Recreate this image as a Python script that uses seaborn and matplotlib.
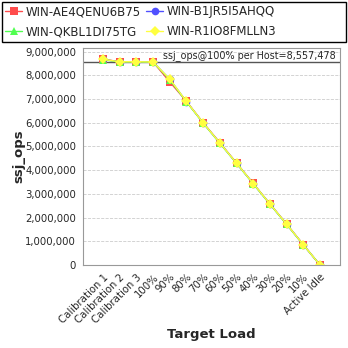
import matplotlib
matplotlib.use("Agg")
import matplotlib.pyplot as plt
import seaborn as sns
import pandas as pd
import numpy as np
from matplotlib.ticker import FuncFormatter
from matplotlib.patches import Rectangle

categories = ["Calibration 1", "Calibration 2", "Calibration 3", "100%", "90%", "80%",
              "70%", "60%", "50%", "40%", "30%", "20%", "10%", "Active Idle"]
hosts = ["WIN-AE4QENU6B75", "WIN-B1JR5I5AHQQ", "WIN-QKBL1DI75TG", "WIN-R1IO8FMLLN3"]
ops_ae4 = [8680000, 8570000, 8575000, 8560000, 7720000, 6900000, 6000000, 5160000, 4300000, 3440000, 2580000, 1730000, 860000, 0]
ops_b1j = [8670000, 8565000, 8570000, 8555000, 7830000, 6890000, 5990000, 5140000, 4290000, 3430000, 2570000, 1720000, 850000, 0]
ops_qkb = [8665000, 8560000, 8565000, 8555000, 7810000, 6880000, 5985000, 5135000, 4285000, 3425000, 2565000, 1715000, 850000, 0]
ops_r1i = [8675000, 8568000, 8572000, 8558000, 7840000, 6895000, 5995000, 5145000, 4295000, 3435000, 2575000, 1725000, 855000, 0]
per_host_100 = 8557478

series = [ops_ae4, ops_b1j, ops_qkb, ops_r1i]
rows = []
for h, vals in zip(hosts, series):
    for i, v in enumerate(vals):
        rows.append({"host": h, "idx": i, "ops": v})
df = pd.DataFrame(rows)

sns.set_style("white")
plt.rcParams['font.family'] = ['DejaVu Sans']

fig = plt.figure(figsize=(3.48, 3.48), dpi=100)
ax = fig.add_axes([83/348, 1-265/348, (340-83)/348, (265-48)/348])

palette = {hosts[0]: "#FF4C4C", hosts[1]: "#5050FF", hosts[2]: "#50FF50", hosts[3]: "#FFFF40"}
markers = {hosts[0]: "s", hosts[1]: "o", hosts[2]: "^", hosts[3]: "D"}
sns.lineplot(data=df, x="idx", y="ops", hue="host", style="host", markers=markers,
             dashes=False, palette=palette, hue_order=hosts, style_order=hosts,
             markersize=5.5, markeredgewidth=0, linewidth=1, ax=ax, legend=True)

ax.axhline(per_host_100, color="#555555", linewidth=1, zorder=1)
ax.text(13.95, per_host_100 + 60000, "ssj_ops@100% per Host=8,557,478",
        ha="right", va="bottom", fontsize=6.9)

ax.set_xlim(-1.2, 14.2)
ax.set_ylim(0, 9150000)
ax.set_yticks(np.arange(0, 9000001, 1000000))
ax.yaxis.set_major_formatter(FuncFormatter(lambda v, p: f"{int(v):,}"))
ax.set_xticks(range(len(categories)))
ax.set_xticklabels(categories, rotation=45, ha="right", rotation_mode="anchor", fontsize=7.3)
ax.tick_params(axis="y", labelsize=7.3, length=3, color="#888888", pad=2)
ax.tick_params(axis="x", length=3, color="#888888", pad=2)
ax.grid(axis="y", color="#CCCCCC", linestyle="--", linewidth=0.6)
for s in ax.spines.values():
    s.set_color("#999999")
    s.set_linewidth(0.8)
ax.set_xlabel("Target Load", fontsize=9.5, fontweight="bold", labelpad=2)
ax.set_ylabel("ssj_ops", fontsize=9.5, fontweight="bold", labelpad=0)

handles, labels = ax.get_legend_handles_labels()
ax.get_legend().remove()
order = [0, 2, 1, 3]
fig.patches.append(Rectangle((2/348, 1-42/348), 344/348, 40/348, transform=fig.transFigure,
                             fill=False, edgecolor="black", linewidth=1))
leg = fig.legend([handles[i] for i in order], [labels[i] for i in order],
                 loc="upper left", ncol=2, bbox_to_anchor=(3/348, 1-3/348),
                 fontsize=8.5, frameon=False,
                 handlelength=1.4, handletextpad=0.3, columnspacing=0.5, borderaxespad=0,
                 labelspacing=0.6, borderpad=0.2)

fig.savefig("out.png", dpi=100)
